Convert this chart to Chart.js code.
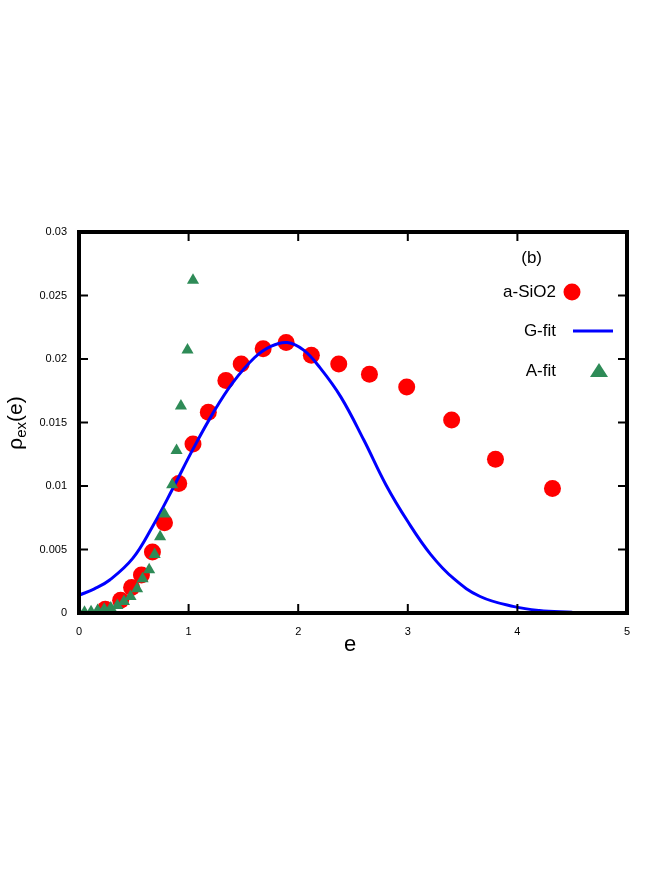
<!DOCTYPE html>
<html><head><meta charset="utf-8">
<script src="https://cdn.jsdelivr.net/npm/chart.js@4/dist/chart.umd.min.js"></script>
<style>html,body{margin:0;padding:0;background:#fff}#w{width:654px;height:872px}</style>
</head><body><div id="w"><canvas id="c"></canvas></div>
<script>
const sioX = [0.24,0.38,0.48,0.57,0.67,0.78,0.91,1.04,1.18,1.34,1.48,1.68,1.89,2.12,2.37,2.65,2.99,3.40,3.80,4.32];
const sioY = [0.0003,0.001,0.002,0.003,0.0048,0.0071,0.0102,0.0133,0.0158,0.0183,0.0196,0.0208,0.0213,0.0203,0.0196,0.0188,0.0178,0.0152,0.0121,0.0098];
const gX = [0,0.14,0.28,0.49,0.67,0.85,1.04,1.22,1.40,1.6,1.75,1.9,2.05,2.2,2.39,2.6,2.8,3.0,3.21,3.42,3.66,3.97,4.2,4.5];
const gY = [0.0014,0.0019,0.0026,0.0043,0.0068,0.0097,0.0129,0.0157,0.0181,0.0201,0.0210,0.0213,0.0207,0.0193,0.0170,0.0136,0.0101,0.0072,0.0046,0.0027,0.0013,0.0005,0.0002,0.00005];
const aX = [0,0.05,0.11,0.17,0.23,0.29,0.35,0.41,0.47,0.53,0.58,0.64,0.69,0.74,0.78,0.85,0.89,0.93,0.99,1.04];
const aY = [0,0.00005,0.0001,0.0002,0.0003,0.0004,0.0006,0.0009,0.0013,0.0019,0.0027,0.0034,0.0046,0.006,0.0078,0.0101,0.0128,0.0163,0.0207,0.0262];
const xTicks = [0,1,2,3,4,5];
const yTicks = [0,0.005,0.01,0.015,0.02,0.025,0.03];
const labels = ['a-SiO2','G-fit','A-fit'];
const pts = (xs,ys)=>xs.map((x,i)=>({x,y:ys[i]}));
const F = '"Liberation Sans", Arial, sans-serif';
const deco = {
  id:'deco',
  afterDraw(ch){
    const c=ch.ctx, a=ch.chartArea, xs=ch.scales.x, ys=ch.scales.y;
    c.save();
    c.strokeStyle='#000'; c.lineWidth=4;
    c.strokeRect(a.left,a.top,a.right-a.left,a.bottom-a.top);
    c.lineWidth=2;
    xTicks.slice(1,-1).forEach(v=>{const p=xs.getPixelForValue(v);
      c.beginPath();c.moveTo(p,a.bottom);c.lineTo(p,a.bottom-9);c.moveTo(p,a.top);c.lineTo(p,a.top+9);c.stroke();});
    yTicks.slice(1,-1).forEach(v=>{const p=ys.getPixelForValue(v);
      c.beginPath();c.moveTo(a.left,p);c.lineTo(a.left+9,p);c.moveTo(a.right,p);c.lineTo(a.right-9,p);c.stroke();});
    c.fillStyle='#000';
    c.font='17px '+F; c.textAlign='right'; c.textBaseline='middle';
    c.fillText('(b)',542,258);
    c.fillText(labels[0],556,292); c.fillText(labels[1],556,331); c.fillText(labels[2],556,371);
    c.fillStyle='#ff0000'; c.beginPath(); c.arc(572,292,8.5,0,Math.PI*2); c.fill();
    c.strokeStyle='#0000ff'; c.lineWidth=3; c.beginPath(); c.moveTo(573,331); c.lineTo(613,331); c.stroke();
    c.fillStyle='#2e8b57'; c.beginPath(); c.moveTo(599,363); c.lineTo(608,377); c.lineTo(590,377); c.closePath(); c.fill();
    c.fillStyle='#000'; c.textAlign='center';
    c.font='22px '+F; c.fillText('e',350,645);
    c.translate(22,423); c.rotate(-Math.PI/2);
    c.textAlign='left'; c.textBaseline='alphabetic';
    c.font='21px '+F; const w1=c.measureText('ρ').width;
    c.font='15px '+F; const w2=c.measureText('ex').width;
    c.font='21px '+F; const w3=c.measureText('(e)').width;
    let x0=-(w1+w2+w3)/2;
    c.fillText('ρ',x0,0); c.font='15px '+F; c.fillText('ex',x0+w1,4);
    c.font='21px '+F; c.fillText('(e)',x0+w1+w2,0);
    c.restore();
  }
};
new Chart(document.getElementById('c'),{
  type:'scatter',
  data:{datasets:[
    {label:labels[0],data:pts(sioX,sioY),backgroundColor:'#ff0000',borderWidth:0,pointRadius:8.5,order:2},
    {label:labels[1],data:pts(gX,gY),type:'line',borderColor:'#0000ff',borderWidth:3,pointRadius:0,tension:0.4,fill:false,order:1},
    {label:labels[2],data:pts(aX,aY),backgroundColor:'#2e8b57',borderWidth:0,pointStyle:'triangle',pointRadius:7,order:0}
  ]},
  options:{
    responsive:true,maintainAspectRatio:false,animation:false,
    layout:{padding:{left:0,top:232,right:27,bottom:229}},
    plugins:{legend:{display:false},tooltip:{enabled:false}},
    scales:{
      x:{type:'linear',min:0,max:5,afterBuildTicks:s=>{s.ticks=xTicks.map(v=>({value:v}))},
        grid:{display:false},border:{display:false},
        ticks:{color:'#000',font:{family:F,size:11},padding:4,maxRotation:0},
        afterFit:s=>{s.height=30}},
      y:{type:'linear',min:0,max:0.03,afterBuildTicks:s=>{s.ticks=yTicks.map(v=>({value:v}))},
        grid:{display:false},border:{display:false},
        ticks:{color:'#000',font:{family:F,size:11},padding:4,callback:v=>String(v)},
        afterFit:s=>{s.width=79}}
    }
  },
  plugins:[deco]
});
</script></body></html>
